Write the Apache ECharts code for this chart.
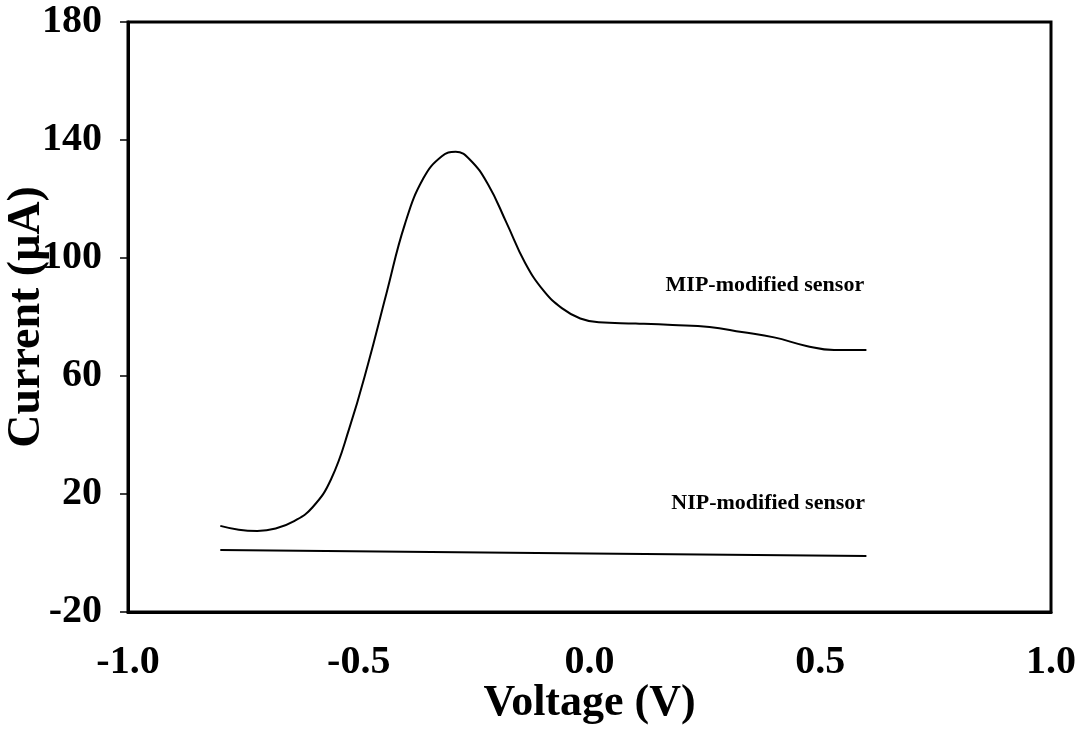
<!DOCTYPE html>
<html>
<head>
<meta charset="utf-8">
<script src="https://cdn.jsdelivr.net/npm/echarts@6/dist/echarts.min.js"></script>
<style>
html,body{margin:0;padding:0;background:#fff;}
#chart{width:1083px;height:730px;}
</style>
</head>
<body>
<div id="chart"></div>
<script>
// Data
const mipVoltage = [-0.80, -0.76, -0.72, -0.68, -0.64, -0.60, -0.56, -0.52, -0.48, -0.44, -0.40, -0.36, -0.32, -0.29, -0.26, -0.22, -0.18, -0.14, -0.10, -0.06, -0.02, 0.02, 0.10, 0.18, 0.26, 0.33, 0.40, 0.47, 0.53, 0.60];
const mipCurrent = [9.2, 7.9, 7.5, 8.3, 10.8, 15.5, 25.0, 42.5, 64.0, 88.0, 111.5, 127.0, 134.5, 136.0, 133.5, 125.0, 112.0, 98.5, 89.0, 83.0, 79.5, 78.2, 77.8, 77.3, 76.6, 74.9, 73.1, 70.2, 68.8, 68.8];
const nipVoltage = [-0.80, -0.4, 0.0, 0.3, 0.60];
const nipCurrent = [1.0, 0.4, -0.2, -0.6, -1.0];
const xTicks = [-1.0, -0.5, 0.0, 0.5, 1.0];
const yTicks = [-20, 20, 60, 100, 140, 180];
const seriesNames = ['MIP-modified sensor', 'NIP-modified sensor'];
const labelCoords = [[0.38, 90.8], [0.387, 16.9]];
const xName = 'Voltage (V)';
const yName = 'Current (\u03BCA)';

const FONT = '"Liberation Serif", "Times New Roman", serif';

const mipData = mipVoltage.map((v, i) => [v, mipCurrent[i]]);
const nipData = nipVoltage.map((v, i) => [v, nipCurrent[i]]);

const chart = echarts.init(document.getElementById('chart'), null, {renderer: 'canvas'});

function labelPoint(name, coord) {
  return {
    symbol: 'circle',
    symbolSize: 1,
    silent: true,
    itemStyle: {color: 'rgba(0,0,0,0)'},
    data: [{
      coord: coord,
      label: {
        show: true,
        position: 'inside',
        formatter: name,
        color: '#000',
        fontFamily: FONT,
        fontWeight: 'bold',
        fontSize: 22
      }
    }]
  };
}

chart.setOption({
  animation: false,
  backgroundColor: '#fff',
  grid: {
    left: 128, right: 32, top: 22, bottom: 118,
    outerBoundsMode: 'none',
    containLabel: false,
    show: true, borderColor: '#000', borderWidth: 3, backgroundColor: 'transparent'
  },
  xAxis: {
    type: 'value',
    min: xTicks[0], max: xTicks[xTicks.length - 1], interval: 0.5,
    name: xName,
    nameLocation: 'middle',
    nameGap: 70,
    nameMoveOverlap: false,
    nameTextStyle: {color: '#000', fontFamily: FONT, fontWeight: 'bold', fontSize: 44},
    axisLine: {show: true, onZero: false, lineStyle: {color: '#000', width: 3}},
    axisTick: {show: false},
    splitLine: {show: false},
    axisLabel: {
      color: '#000', fontFamily: FONT, fontWeight: 'bold', fontSize: 40, margin: 31,
      formatter: v => v.toFixed(1)
    }
  },
  yAxis: {
    type: 'value',
    min: yTicks[0], max: yTicks[yTicks.length - 1], interval: 40,
    name: yName,
    nameLocation: 'middle',
    nameGap: 78,
    nameMoveOverlap: false,
    nameTextStyle: {color: '#000', fontFamily: FONT, fontWeight: 'bold', fontSize: 46},
    axisLine: {show: true, onZero: false, lineStyle: {color: '#000', width: 3}},
    axisTick: {show: true, inside: false, length: 8, lineStyle: {color: '#000', width: 1.5}},
    splitLine: {show: false},
    axisLabel: {color: '#000', fontFamily: FONT, fontWeight: 'bold', fontSize: 40, margin: 26}
  },
  series: [
    {
      name: seriesNames[0],
      type: 'line',
      data: mipData,
      smooth: 0.45,
      showSymbol: false,
      lineStyle: {color: '#000', width: 2},
      markPoint: labelPoint(seriesNames[0], labelCoords[0])
    },
    {
      name: seriesNames[1],
      type: 'line',
      data: nipData,
      smooth: false,
      showSymbol: false,
      lineStyle: {color: '#000', width: 2},
      markPoint: labelPoint(seriesNames[1], labelCoords[1])
    }
  ]
});
</script>
</body>
</html>
